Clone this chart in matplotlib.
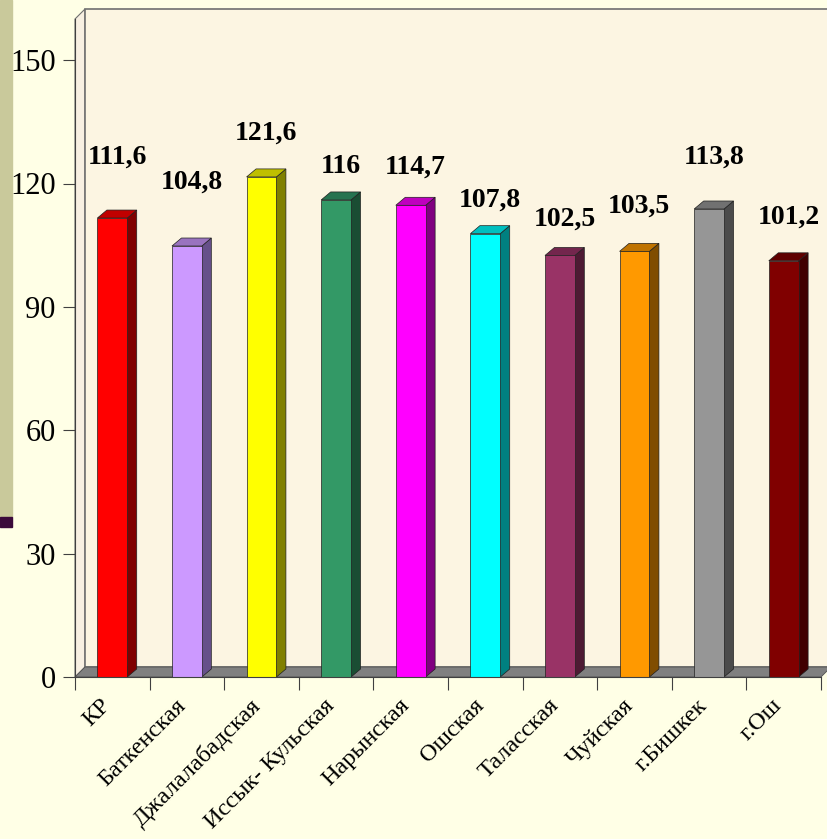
import matplotlib
matplotlib.use('Agg')
from matplotlib import pyplot as plt
from matplotlib.patches import Polygon, Rectangle
from matplotlib.transforms import ScaledTranslation
import numpy as np

# data
regions = ['КР', 'Баткенская', 'Джалалабадская', 'Иссык- Кульская', 'Нарынская',
           'Ошская', 'Таласская', 'Чуйская', 'г.Бишкек', 'г.Ош']
values = [111.6, 104.8, 121.6, 116, 114.7, 107.8, 102.5, 103.5, 113.8, 101.2]
value_text = ['111,6', '104,8', '121,6', '116', '114,7', '107,8', '102,5', '103,5', '113,8', '101,2']
y_ticks = [0, 30, 60, 90, 120, 150]

# colours: front, top, side
fronts = ['#FF0000', '#CC99FF', '#FFFF00', '#339966', '#FF00FF',
          '#00FFFF', '#993366', '#FF9900', '#969696', '#800000']
tops = ['#C00000', '#9973BF', '#BFBF00', '#267350', '#BF00BF',
        '#00BFBF', '#73264D', '#BF7300', '#717171', '#600000']
sides = ['#800000', '#66508A', '#808000', '#1A4D33', '#800080',
         '#008080', '#4D1A33', '#804D00', '#4B4B4B', '#400000']
# vertical pad of value labels above bar tops (pixels)
label_lift = [61, 64, 44, 33, 38, 34, 36, 45, 52, 44]

plt.rcParams['font.family'] = ['Liberation Serif', 'DejaVu Serif']

fig = plt.figure(figsize=(8.27, 8.39), dpi=100)
fig.patch.set_facecolor('#FFFFE6')
# left decoration strip
fig.patches.append(Rectangle((0, 1 - 517 / 839), 12 / 827, 517 / 839,
                             transform=fig.transFigure, color='#C9C99B', zorder=0))
fig.patches.append(Rectangle((0, 1 - 527 / 839), 12 / 827, 10 / 839,
                             transform=fig.transFigure, color='#3B0A3B', zorder=0))

ax = fig.add_axes([75 / 827, 1 - 677 / 839, 746 / 827, 658 / 839])
ax.set_xlim(0, 10)
ax.set_ylim(0, 160)
ax.patch.set_visible(False)

px_x = 746 / 10.0   # pixels per x unit
px_y = 658 / 160.0  # pixels per y unit
dx = 10 / px_x
dy = 10 / px_y
bdx = 9.5 / px_x
bdy = 8 / px_y
ymax = 160

# walls and floor
ax.add_patch(Polygon([(0, 0), (dx, dy), (dx, ymax + dy), (0, ymax)], closed=True,
                     facecolor='#F8F0E2', edgecolor='#707070', lw=0.8, clip_on=False, zorder=1))
ax.add_patch(Polygon([(dx, dy), (10 + dx, dy), (10 + dx, ymax + dy), (dx, ymax + dy)], closed=True,
                     facecolor='#FCF5E2', edgecolor='#707070', lw=1.2, clip_on=False, zorder=1))
ax.add_patch(Polygon([(0, 0), (10, 0), (10 + dx, dy), (dx, dy)], closed=True,
                     facecolor='#808080', edgecolor='#505050', lw=0.6, clip_on=False, zorder=2))

w = 0.4
for i, v in enumerate(values):
    c = i + 0.5
    l, r = c - w / 2, c + w / 2
    ax.add_patch(Polygon([(r, 0), (r + bdx, bdy), (r + bdx, v + bdy), (r, v)], closed=True,
                         facecolor=sides[i], edgecolor='#202020', lw=0.5, clip_on=False, zorder=3))
    ax.add_patch(Polygon([(l, v), (r, v), (r + bdx, v + bdy), (l + bdx, v + bdy)], closed=True,
                         facecolor=tops[i], edgecolor='#202020', lw=0.5, clip_on=False, zorder=3))
    ax.add_patch(Rectangle((l, 0), w, v, facecolor=fronts[i], edgecolor='#202020',
                           lw=0.5, clip_on=False, zorder=4))
    ax.annotate(value_text[i], (c + bdx / 2, v), xytext=(0, label_lift[i]),
                textcoords='offset pixels', ha='center', va='center',
                fontsize=20, fontweight='bold', color='black', zorder=5)

for s in ['top', 'right']:
    ax.spines[s].set_visible(False)
ax.spines['left'].set_color('#404040')
ax.spines['bottom'].set_color('#404040')
ax.spines['left'].set_zorder(6)
ax.spines['bottom'].set_zorder(6)

ax.set_yticks(y_ticks)
ax.set_yticklabels([str(t) for t in y_ticks], fontsize=22)
ax.tick_params(axis='y', length=9, color='#404040', pad=5)

ax.set_xticks(np.arange(0, 11))
ax.set_xticklabels([])
ax.tick_params(axis='x', which='major', length=9, color='#404040')
ax.set_xticks(np.arange(10) + 0.5, minor=True)
ax.set_xticklabels(regions, minor=True, rotation=45, ha='right', va='top',
                   rotation_mode='anchor', fontsize=17.5)
ax.tick_params(axis='x', which='minor', length=0, pad=13)
shift = ScaledTranslation(-12 / 100, 0, fig.dpi_scale_trans)
for lab in ax.get_xticklabels(minor=True):
    lab.set_transform(lab.get_transform() + shift)

fig.savefig('out.png', dpi=100, facecolor=fig.get_facecolor())
